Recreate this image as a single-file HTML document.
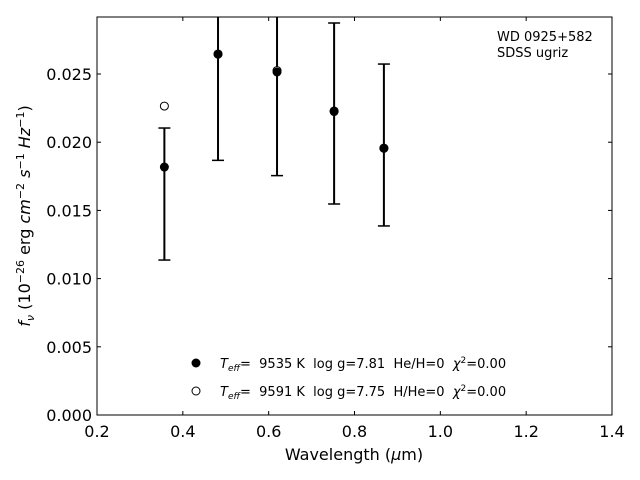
<!DOCTYPE html>
<html><head><meta charset="utf-8"><style>body{margin:0;background:#fff}svg{display:block;font-family:"DejaVu Sans","Liberation Sans",sans-serif}</style></head>
<body>
<svg id="c" width="640" height="480" viewBox="0 0 640 480"></svg>
<script>
const wavelengths=[0.357,0.482,0.6195,0.7525,0.8685];
const observedFlux=[0.01818,0.02647,0.02515,0.02229,0.01957];
const errUpper=[0.00286,0.0078,0.0076,0.00645,0.00616];
const errLower=[0.00682,0.0078,0.0076,0.00682,0.00571];
const modelFlux=[0.02265,0.02645,0.02525,0.02225,0.01955];
const xTicks=[0.2,0.4,0.6,0.8,1.0,1.2,1.4];
const yTicks=[0.000,0.005,0.010,0.015,0.020,0.025];
const X0=97,X1=612,Y0=415,Y1=17;
const xs=v=>X0+(v-0.2)/1.2*(X1-X0);
const ys=v=>Y0-v/0.02918*(Y0-Y1);
const svg=document.getElementById('c');const NS='http://www.w3.org/2000/svg';
function mk(t,a,p){const e=document.createElementNS(NS,t);for(const k in a)e.setAttribute(k,a[k]);(p||svg).appendChild(e);return e;}
const clip=mk('clipPath',{id:'cp'});mk('rect',{x:X0,y:Y1,width:X1-X0,height:Y0-Y1},clip);
const frame=mk('rect',{x:X0,y:Y1,width:X1-X0,height:Y0-Y1,fill:'none',stroke:'#000','stroke-width':1});

xTicks.forEach(t=>{const x=xs(t);mk('line',{x1:x,x2:x,y1:Y0,y2:Y0-4,stroke:'#000'});mk('line',{x1:x,x2:x,y1:Y1,y2:Y1+4,stroke:'#000'});
const l=mk('text',{x:x,y:Y0+22,'text-anchor':'middle','font-size':16});l.textContent=t.toFixed(1);
});
yTicks.forEach(t=>{const y=ys(t);mk('line',{x1:X0,x2:X0+4,y1:y,y2:y,stroke:'#000'});mk('line',{x1:X1,x2:X1-4,y1:y,y2:y,stroke:'#000'});
const l=mk('text',{x:X0-5,y:y+6,'text-anchor':'end','font-size':16});l.textContent=t.toFixed(3);
});
const g=mk('g',{'clip-path':'url(#cp)'});
wavelengths.forEach((w,i)=>{const x=xs(w);const t=ys(observedFlux[i]+errUpper[i]),b=ys(observedFlux[i]-errLower[i]);
const eb=mk('g',{},g);
mk('line',{x1:x,x2:x,y1:t,y2:b,stroke:'#000','stroke-width':2},eb);
mk('line',{x1:x-6,x2:x+6,y1:t,y2:t,stroke:'#000','stroke-width':1.5},eb);
mk('line',{x1:x-6,x2:x+6,y1:b,y2:b,stroke:'#000','stroke-width':1.5},eb);
const m=mk('circle',{cx:x,cy:ys(modelFlux[i]),r:4,fill:'#fff',stroke:'#000','stroke-width':1},g);

const o=mk('circle',{cx:x,cy:ys(observedFlux[i]),r:4.5,fill:'#000'},g);
});
</script>
<svg width="640" height="480" style="position:absolute;left:0;top:0" font-family="DejaVu Sans, Liberation Sans, sans-serif">
<text x="497" y="41" font-size="13">WD 0925+582</text>
<text x="497" y="57" font-size="13">SDSS ugriz</text>
<text x="354" y="460" font-size="16" text-anchor="middle">Wavelength (<tspan font-style="italic">μ</tspan>m)</text>
<text transform="translate(30,216) rotate(-90)" font-size="16" text-anchor="middle"><tspan font-style="italic">f</tspan><tspan font-style="italic" font-size="11" dy="4">ν</tspan><tspan dy="-4"> (10</tspan><tspan font-size="11" dy="-6">−26</tspan><tspan dy="6"> erg </tspan><tspan font-style="italic">cm</tspan><tspan font-size="11" dy="-6">−2</tspan><tspan dy="6"> </tspan><tspan font-style="italic">s</tspan><tspan font-size="11" dy="-6">−1</tspan><tspan dy="6"> </tspan><tspan font-style="italic">Hz</tspan><tspan font-size="11" dy="-6">−1</tspan><tspan dy="6">)</tspan></text>
<g font-size="13" style="white-space:pre">
<circle cx="196" cy="363" r="4.5" fill="#000"/>
<text x="220" y="368" xml:space="preserve"><tspan font-style="italic">T</tspan><tspan font-style="italic" font-size="9" dy="3">eff</tspan><tspan dy="-3">=  9535 K  log g=7.81  He/H=0  </tspan><tspan font-style="italic">χ</tspan><tspan font-size="9" dy="-5">2</tspan><tspan dy="5">=0.00</tspan></text>
<circle cx="196" cy="391" r="4" fill="#fff" stroke="#000"/>
<text x="220" y="396" xml:space="preserve"><tspan font-style="italic">T</tspan><tspan font-style="italic" font-size="9" dy="3">eff</tspan><tspan dy="-3">=  9591 K  log g=7.75  H/He=0  </tspan><tspan font-style="italic">χ</tspan><tspan font-size="9" dy="-5">2</tspan><tspan dy="5">=0.00</tspan></text>
</g>
</svg>
</body></html>
